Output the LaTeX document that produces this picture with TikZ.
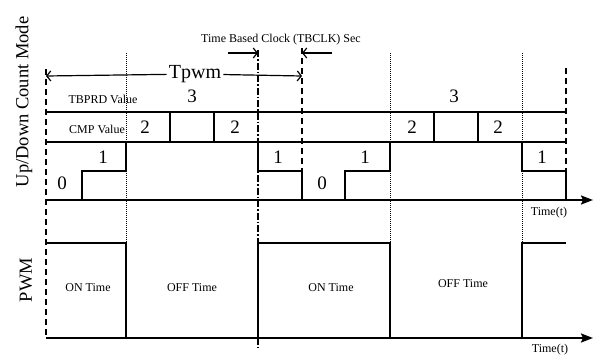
\documentclass[tikz,border=0pt]{standalone}
\usepackage{fontspec}
\setmainfont{Liberation Serif}
\usetikzlibrary{positioning,arrows.meta}

\begin{document}
\begin{tikzpicture}[x=1pt, y=-1pt, >={Straight Barb[length=4pt,width=10pt]},
			every node/.style={inner sep=1pt, font=\fontsize{12}{14}\selectfont},
			big/.style={font=\fontsize{20}{22}\selectfont},
			side/.style={font=\fontsize{18.5}{21}\selectfont, rotate=90},
			lvl/.style={font=\fontsize{19}{21}\selectfont},
			axis/.style={line width=2pt, -{Stealth[length=12pt,width=9pt,inset=2pt]}},
			count/.style={line width=2pt},
			reflevel/.style={line width=1.4pt},
			pwmwave/.style={line width=1.3pt},
			sync/.style={line width=1pt, densely dotted},
			period/.style={line width=1.6pt, dash pattern=on 6pt off 4pt},
			clk/.style={line width=1.2pt, dash pattern=on 7pt off 2pt on 1.5pt off 2pt}]
			
			\useasboundingbox (0,0) rectangle (595,356);
			
			\draw[sync] (126,53) -- (126,338);
			\draw[sync] (390,53) -- (390,338);
			\draw[sync] (522,53) -- (522,338);
			\draw[clk] (258,50) -- (258,347);
			\draw[period] (46,69) -- (46,338);
			\draw[period] (302,48) -- (302,171);
			\draw[period] (566,68) -- (566,171);
			
			\draw[reflevel] (46,112) -- (566,112);
			\draw[reflevel] (46,142) -- (566,142);
			\draw[count] (46,200) -- (82,200) -- (82,171) -- (126,171) -- (126,142) -- (170,142)
				-- (170,112) -- (214,112) -- (214,142) -- (258,142) -- (258,171) -- (302,171)
				-- (302,200) -- (345,200) -- (345,171) -- (390,171) -- (390,142) -- (434,142)
				-- (434,112) -- (478,112) -- (478,142) -- (522,142) -- (522,171) -- (566,171)
				-- (566,200);
			\draw[axis] (46,200) -- (593,200);
			
			\draw[pwmwave] (46,243) -- (126,243) -- (126,338);
			\draw[pwmwave] (258,338) -- (258,243) -- (390,243) -- (390,338);
			\draw[pwmwave] (522,338) -- (522,243) -- (566,243);
			\draw[axis] (46,338) -- (593,338);
			
			\foreach \x/\y/\v [count=\i] in {62/183/0, 103/157/1, 145/127/2, 192/96/3,
				235/127/2, 278/157/1, 322/183/0, 365/157/1, 412/127/2, 454/96/3, 498/127/2, 542/157/1}
				\node[lvl] (v\i) at (\x,\y) {\v};
			
			\node[side] (cntmode) at (24,102) {Up/Down Count Mode};
			\node[side] (pwm) at (26,280) {PWM};
			\node (tbprd) at (103,99) {TBPRD Value};
			\node (cmp) at (97,129) {CMP Value};
			\node (tbclk) at (281,40) {Time Based Clock (TBCLK) Sec};
			\node (time1) at (549,213) {Time(t)};
			\node (time2) at (550,349.5) {Time(t)};
			\node (on1) at (88,288) {ON Time};
			\node (off1) at (192,288) {OFF Time};
			\node (on2) at (331,288) {ON Time};
			\node (off2) at (463,284) {OFF Time};
			
			\coordinate (pl) at (46,76);
			\coordinate (pr) at (302,76);
			\node[big, fill=white, inner sep=2pt] (tpwm) at (195,74) {Tpwm};
			\draw[->, line width=1.2pt] (tpwm) -- (pl);
			\draw[->, line width=1.2pt] (tpwm) -- (pr);
			
			\coordinate (ca) at (228,53);
			\coordinate (cb) at (258,53);
			\coordinate (cc) at (332,53);
			\coordinate (cd) at (302,53);
			\draw[->, line width=1.2pt] (ca) -- (cb);
			\draw[->, line width=1.2pt] (cc) -- (cd);
	\end{tikzpicture}
\end{document}
